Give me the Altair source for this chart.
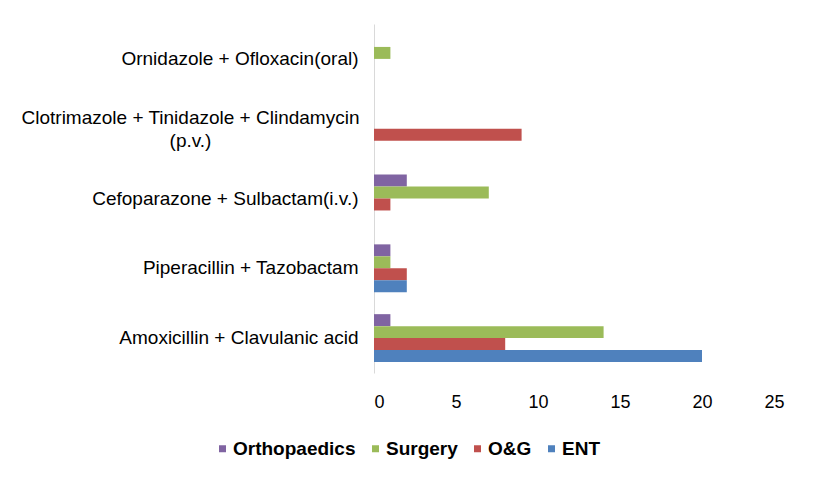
import altair as alt
import pandas as pd

categories = [
    "Ornidazole + Ofloxacin(oral)",
    "Clotrimazole + Tinidazole + Clindamycin (p.v.)",
    "Cefoparazone + Sulbactam(i.v.)",
    "Piperacillin + Tazobactam",
    "Amoxicillin + Clavulanic acid",
]
series = ["Orthopaedics", "Surgery", "O&G", "ENT"]
colors = ["#8064A2", "#9BBB59", "#C0504D", "#4F81BD"]

orthopaedics = [0, 0, 2, 1, 1]
surgery = [1, 0, 7, 1, 14]
og = [0, 9, 1, 2, 8]
ent = [0, 0, 0, 2, 20]

values = {"Orthopaedics": orthopaedics, "Surgery": surgery, "O&G": og, "ENT": ent}
rows = []
for s in series:
    for c, v in zip(categories, values[s]):
        rows.append({"Drug": c, "Department": s, "Count": v})
df = pd.DataFrame(rows)

wrapped = "Clotrimazole + Tinidazole + Clindamycin (p.v.)"
is_wrapped = f"datum.label == '{wrapped}'"
label_expr = (
    f"{is_wrapped} ? "
    "['Clotrimazole + Tinidazole + Clindamycin', '(p.v.)'] : datum.label"
)

chart = alt.Chart(df).mark_bar().encode(
    x=alt.X(
        "Count:Q",
        scale=alt.Scale(domain=[0, 25], nice=False),
        axis=alt.Axis(
            values=[0, 5, 10, 15, 20, 25],
            title=None,
            domain=False,
            ticks=False,
            grid=False,
            labelFontSize=18,
            labelPadding=20,
            labelColor="#000000",
            labelFont="Liberation Sans",
        ),
    ),
    y=alt.Y(
        "Drug:N",
        sort=categories,
        scale=alt.Scale(paddingInner=0.314, paddingOuter=0.157),
        axis=alt.Axis(
            title=None,
            ticks=False,
            grid=False,
            domainColor="#D9D9D9",
            domainWidth=1,
            labelFontSize=19,
            labelPadding={"condition": {"test": is_wrapped, "value": 184}, "value": 16},
            labelAlign={"condition": {"test": is_wrapped, "value": "center"}, "value": "right"},
            labelOffset={"condition": {"test": is_wrapped, "value": -11}, "value": 0},
            labelLimit=0,
            labelColor="#000000",
            labelFont="Liberation Sans",
            labelExpr=label_expr,
            labelLineHeight=23,
        ),
    ),
    yOffset=alt.YOffset("Department:N", sort=series, scale=alt.Scale(paddingInner=0, paddingOuter=0)),
    color=alt.Color(
        "Department:N",
        sort=series,
        scale=alt.Scale(domain=series, range=colors),
        legend=alt.Legend(
            title=None,
            orient="none",
            legendX=-161,
            legendY=415,
            direction="horizontal",
            columns=4,
            symbolType="square",
            symbolSize=49,
            symbolStrokeWidth=0,
            labelFontSize=19,
            labelFontWeight="bold",
            labelFont="Liberation Sans",
            labelColor="#000000",
            labelOffset=1,
            columnPadding=10,
            padding=0,
        ),
    ),
).properties(
    width=410,
    height=349,
    padding={"left": 12, "top": 16, "right": 20, "bottom": 10},
).configure_view(strokeWidth=0)

chart.save("out.html", embed_options={"renderer": "svg", "actions": False})
